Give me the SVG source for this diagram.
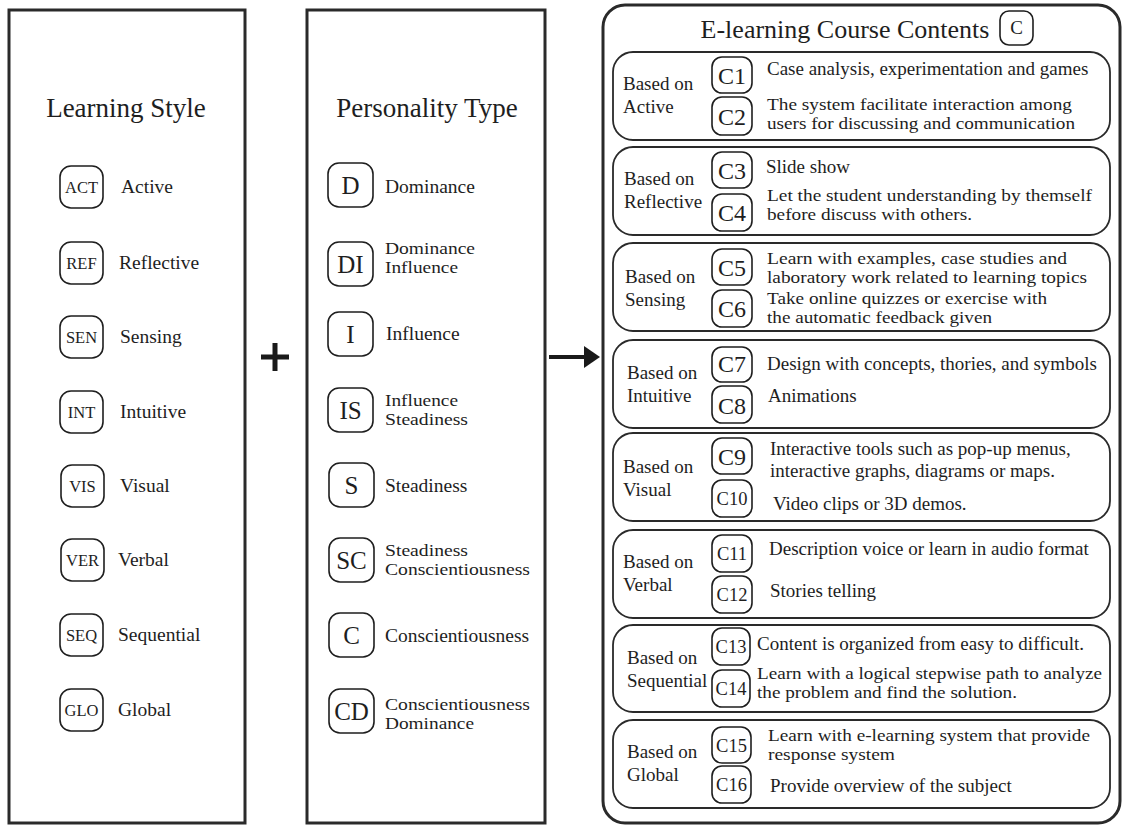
<svg xmlns="http://www.w3.org/2000/svg" width="1132" height="825" viewBox="0 0 1132 825" font-family="'Liberation Serif', 'DejaVu Serif', serif">
<style>
text{font-family:'Liberation Serif','DejaVu Serif',serif;fill:#1e1e1e}
.panel{fill:#fff;stroke:#2a2a2a;stroke-width:3}
.grp{fill:#fff;stroke:#2a2a2a;stroke-width:1.8}
.bdg{fill:#fff;stroke:#1e1e1e;stroke-width:1.6}
.title{font-size:27px}
.lb{font-size:19.5px}
.l2{font-size:17px}
.bl{font-size:16.5px;text-anchor:middle}
.bm{font-size:25px;text-anchor:middle}
.bc{font-size:24px;text-anchor:middle}
.bcs{font-size:18.5px;text-anchor:middle}
.d{font-size:19px}
.d2{font-size:17px}
</style>
<rect width="1132" height="825" fill="#fff"/>

<g id="learning-style">
<rect class="panel" x="9" y="10" width="236" height="813"/>
<text class="title" x="126" y="117" text-anchor="middle">Learning Style</text>
</g>
<g id="ls-act"><rect class="bdg" x="60" y="166" width="43" height="42" rx="11"/><text class="bl" x="81.5" y="193">ACT</text><text class="lb" x="121" y="193">Active</text></g>
<g id="ls-ref"><rect class="bdg" x="60" y="242" width="43" height="42" rx="11"/><text class="bl" x="81.5" y="269">REF</text><text class="lb" x="119" y="269">Reflective</text></g>
<g id="ls-sen"><rect class="bdg" x="60" y="316" width="43" height="42" rx="11"/><text class="bl" x="81.5" y="343">SEN</text><text class="lb" x="120" y="343">Sensing</text></g>
<g id="ls-int"><rect class="bdg" x="60" y="391" width="43" height="42" rx="11"/><text class="bl" x="81.5" y="418">INT</text><text class="lb" x="120" y="418">Intuitive</text></g>
<g id="ls-vis"><rect class="bdg" x="61" y="465" width="43" height="42" rx="11"/><text class="bl" x="82.5" y="492">VIS</text><text class="lb" x="120" y="492">Visual</text></g>
<g id="ls-ver"><rect class="bdg" x="61" y="539" width="43" height="42" rx="11"/><text class="bl" x="82.5" y="566">VER</text><text class="lb" x="118" y="566">Verbal</text></g>
<g id="ls-seq"><rect class="bdg" x="60" y="614" width="43" height="42" rx="11"/><text class="bl" x="81.5" y="641">SEQ</text><text class="lb" x="118" y="641">Sequential</text></g>
<g id="ls-glo"><rect class="bdg" x="60" y="689" width="43" height="42" rx="11"/><text class="bl" x="81.5" y="716">GLO</text><text class="lb" x="118" y="716">Global</text></g>

<g id="personality-type">
<rect class="panel" x="307" y="10" width="238" height="813"/>
<text class="title" x="427" y="117" text-anchor="middle">Personality Type</text>
</g>
<g id="pt-d"><rect class="bdg" x="328" y="163" width="45" height="44" rx="11"/><text class="bm" x="350.5" y="194">D</text><text class="lb" x="385" y="193">Dominance</text></g>
<g id="pt-di"><rect class="bdg" x="328" y="242" width="45" height="44" rx="11"/><text class="bm" x="350.5" y="273">DI</text><text class="l2" x="385" y="254" textLength="90" lengthAdjust="spacingAndGlyphs">Dominance</text><text class="l2" x="385" y="273" textLength="73" lengthAdjust="spacingAndGlyphs">Influence</text></g>
<g id="pt-i"><rect class="bdg" x="328" y="312" width="45" height="44" rx="11"/><text class="bm" x="350.5" y="343">I</text><text class="lb" x="386" y="340">Influence</text></g>
<g id="pt-is"><rect class="bdg" x="328" y="388" width="45" height="44" rx="11"/><text class="bm" x="350.5" y="419">IS</text><text class="l2" x="385" y="406" textLength="73" lengthAdjust="spacingAndGlyphs">Influence</text><text class="l2" x="385" y="425" textLength="83" lengthAdjust="spacingAndGlyphs">Steadiness</text></g>
<g id="pt-s"><rect class="bdg" x="329" y="463" width="45" height="44" rx="11"/><text class="bm" x="351.5" y="494">S</text><text class="lb" x="385" y="492">Steadiness</text></g>
<g id="pt-sc"><rect class="bdg" x="329" y="538" width="45" height="44" rx="11"/><text class="bm" x="351.5" y="569">SC</text><text class="l2" x="385" y="556" textLength="83" lengthAdjust="spacingAndGlyphs">Steadiness</text><text class="l2" x="385" y="575" textLength="145" lengthAdjust="spacingAndGlyphs">Conscientiousness</text></g>
<g id="pt-c"><rect class="bdg" x="329" y="613" width="45" height="44" rx="11"/><text class="bm" x="351.5" y="644">C</text><text class="lb" x="385" y="642">Conscientiousness</text></g>
<g id="pt-cd"><rect class="bdg" x="329" y="689" width="45" height="44" rx="11"/><text class="bm" x="351.5" y="720">CD</text><text class="l2" x="385" y="710" textLength="145" lengthAdjust="spacingAndGlyphs">Conscientiousness</text><text class="l2" x="385" y="729" textLength="89" lengthAdjust="spacingAndGlyphs">Dominance</text></g>

<g id="connectors">
<path d="M275 343V371M261 357H289" stroke="#1a1a1a" stroke-width="5" fill="none"/>
<line x1="549" y1="357" x2="588" y2="357" stroke="#1a1a1a" stroke-width="4"/>
<polygon points="584,346 600,357 584,368" fill="#1a1a1a"/>
</g>

<g id="course-contents">
<rect class="panel" x="603" y="5" width="517" height="818" rx="22"/>
<text x="845" y="38" text-anchor="middle" style="font-size:26px">E-learning Course Contents</text>
<rect class="bdg" x="1000" y="11" width="33" height="34" rx="9"/>
<text x="1016.5" y="34" text-anchor="middle" style="font-size:19px">C</text>
</g>

<g id="g-active">
<rect class="grp" x="613" y="52" width="497" height="88" rx="20"/>
<text class="d" x="623" y="90">Based on</text><text class="d" x="623" y="113">Active</text>
<rect class="bdg" x="712" y="57" width="40" height="36" rx="10"/><text class="bc" x="732" y="84">C1</text>
<rect class="bdg" x="712" y="97" width="40" height="38" rx="10"/><text class="bc" x="732" y="125">C2</text>
<text class="d" x="767" y="75">Case analysis, experimentation and games</text>
<text class="d2" x="767" y="110" textLength="305" lengthAdjust="spacingAndGlyphs">The system facilitate interaction among</text>
<text class="d2" x="767" y="129" textLength="308" lengthAdjust="spacingAndGlyphs">users for discussing and communication</text>
</g>

<g id="g-reflective">
<rect class="grp" x="613" y="147" width="497" height="88" rx="20"/>
<text class="d" x="624" y="185">Based on</text><text class="d" x="624" y="208">Reflective</text>
<rect class="bdg" x="712" y="152" width="40" height="36" rx="10"/><text class="bc" x="732" y="179">C3</text>
<rect class="bdg" x="712" y="194" width="40" height="37" rx="10"/><text class="bc" x="732" y="221">C4</text>
<text class="d" x="766" y="173">Slide show</text>
<text class="d2" x="767" y="201" textLength="325" lengthAdjust="spacingAndGlyphs">Let the student understanding by themself</text>
<text class="d2" x="767" y="220" textLength="205" lengthAdjust="spacingAndGlyphs">before discuss with others.</text>
</g>

<g id="g-sensing">
<rect class="grp" x="613" y="243" width="497" height="88" rx="20"/>
<text class="d" x="625" y="283">Based on</text><text class="d" x="625" y="306">Sensing</text>
<rect class="bdg" x="712" y="249" width="40" height="36" rx="10"/><text class="bc" x="732" y="276">C5</text>
<rect class="bdg" x="712" y="290" width="40" height="37" rx="10"/><text class="bc" x="732" y="317">C6</text>
<text class="d2" x="767" y="264" textLength="300" lengthAdjust="spacingAndGlyphs">Learn with  examples, case studies and</text>
<text class="d2" x="767" y="283" textLength="320" lengthAdjust="spacingAndGlyphs">laboratory work related to learning topics</text>
<text class="d2" x="767" y="304" textLength="280" lengthAdjust="spacingAndGlyphs">Take online quizzes or exercise with</text>
<text class="d2" x="767" y="323" textLength="225" lengthAdjust="spacingAndGlyphs">the automatic feedback given</text>
</g>

<g id="g-intuitive">
<rect class="grp" x="613" y="340" width="497" height="88" rx="20"/>
<text class="d" x="627" y="379">Based on</text><text class="d" x="627" y="402">Intuitive</text>
<rect class="bdg" x="712" y="347" width="40" height="35" rx="10"/><text class="bc" x="732" y="372">C7</text>
<rect class="bdg" x="712" y="386" width="40" height="37" rx="10"/><text class="bc" x="732" y="414">C8</text>
<text class="d" x="767" y="370">Design with concepts, thories, and symbols</text>
<text class="d" x="768" y="402">Animations</text>
</g>

<g id="g-visual">
<rect class="grp" x="613" y="433" width="497" height="88" rx="20"/>
<text class="d" x="623" y="473">Based on</text><text class="d" x="623" y="496">Visual</text>
<rect class="bdg" x="712" y="438" width="40" height="36" rx="10"/><text class="bc" x="732" y="465">C9</text>
<rect class="bdg" x="712" y="480" width="40" height="37" rx="10"/><text class="bcs" x="732" y="505">C10</text>
<text class="d" x="770" y="455">Interactive tools such as pop-up menus,</text>
<text class="d" x="770" y="477">interactive graphs, diagrams or maps.</text>
<text class="d" x="773" y="510">Video clips or 3D demos.</text>
</g>

<g id="g-verbal">
<rect class="grp" x="613" y="530" width="497" height="88" rx="20"/>
<text class="d" x="623" y="568">Based on</text><text class="d" x="623" y="591">Verbal</text>
<rect class="bdg" x="712" y="535" width="40" height="37" rx="10"/><text class="bcs" x="732" y="560">C11</text>
<rect class="bdg" x="712" y="576" width="40" height="37" rx="10"/><text class="bcs" x="732" y="601">C12</text>
<text class="d" x="769" y="555">Description voice or learn in audio format</text>
<text class="d" x="770" y="597">Stories telling</text>
</g>

<g id="g-sequential">
<rect class="grp" x="613" y="625" width="497" height="87" rx="20"/>
<text class="d" x="627" y="664">Based on</text><text class="d" x="627" y="687">Sequential</text>
<rect class="bdg" x="712" y="628" width="38" height="37" rx="10"/><text class="bcs" x="731" y="653">C13</text>
<rect class="bdg" x="712" y="670" width="38" height="37" rx="10"/><text class="bcs" x="731" y="695">C14</text>
<text class="d" x="757" y="650">Content is organized from easy to difficult.</text>
<text class="d2" x="757" y="679" textLength="345" lengthAdjust="spacingAndGlyphs">Learn with a logical stepwise path to analyze</text>
<text class="d2" x="757" y="698" textLength="260" lengthAdjust="spacingAndGlyphs">the problem and find the solution.</text>
</g>

<g id="g-global">
<rect class="grp" x="613" y="720" width="497" height="88" rx="20"/>
<text class="d" x="627" y="758">Based on</text><text class="d" x="627" y="781">Global</text>
<rect class="bdg" x="712" y="727" width="39" height="36" rx="10"/><text class="bcs" x="731.5" y="752">C15</text>
<rect class="bdg" x="712" y="766" width="39" height="37" rx="10"/><text class="bcs" x="731.5" y="791">C16</text>
<text class="d2" x="768" y="741" textLength="322" lengthAdjust="spacingAndGlyphs">Learn with e-learning system that provide</text>
<text class="d2" x="768" y="760" textLength="127" lengthAdjust="spacingAndGlyphs">response system</text>
<text class="d" x="770" y="792">Provide overview of the subject</text>
</g>
</svg>
